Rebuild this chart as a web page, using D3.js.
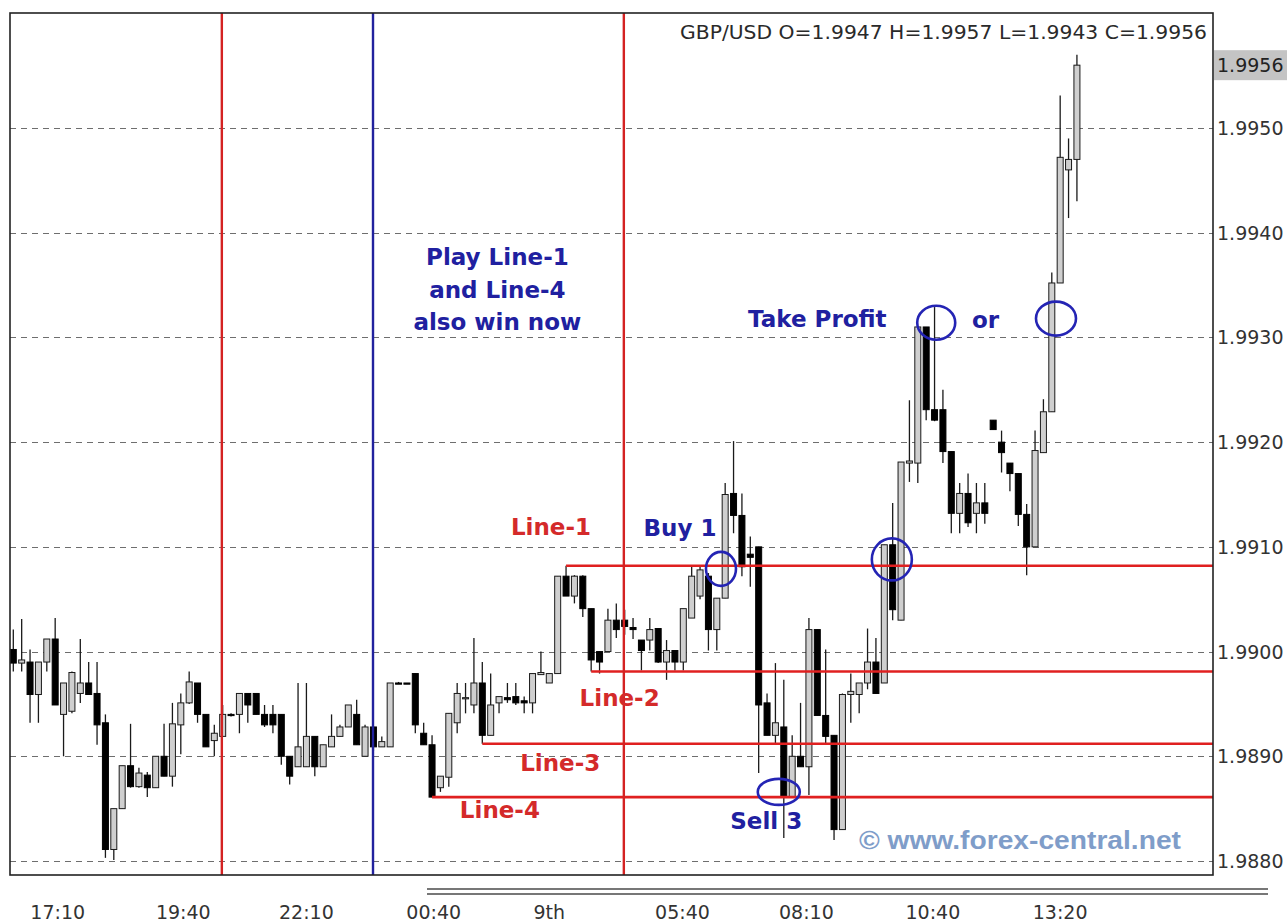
<!DOCTYPE html>
<html><head><meta charset="utf-8">
<script src="https://cdn.jsdelivr.net/npm/d3@7"></script>
<style>html,body{margin:0;padding:0;background:#fff;} svg{display:block;}</style>
</head><body><svg id="c" width="1287" height="923"></svg>
<script>
// ---------- DATA (GBP/USD, 10-minute candles) ----------
const opens = [1.99002,1.98989,1.98990,1.98959,1.98990,1.99012,1.98940,1.98943,1.98960,1.98970,
1.98960,1.98932,1.98811,1.98850,1.98891,1.98871,1.98882,1.98870,1.98900,1.98881,
1.98930,1.98951,1.98970,1.98940,1.98915,1.98919,1.98940,1.98940,1.98960,1.98960,
1.98940,1.98940,1.98940,1.98900,1.98890,1.98890,1.98919,1.98890,1.98909,1.98919,
1.98928,1.98940,1.98900,1.98928,1.98909,1.98909,1.98970,1.98970,1.98979,1.98922,
1.98911,1.98870,1.98880,1.98932,1.98955,1.98949,1.98970,1.98920,1.98951,1.98956,
1.98957,1.98953,1.98951,1.98978,1.98970,1.98979,1.99072,1.99053,1.99072,1.99041,
1.99000,1.99000,1.99030,1.99030,1.99023,1.99011,1.99011,1.99022,1.98990,1.99001,
1.98990,1.99032,1.99053,1.99072,1.99021,1.99051,1.99151,1.99130,1.99093,1.99100,
1.98951,1.98920,1.98928,1.98861,1.98900,1.98890,1.99021,1.98939,1.98920,1.98830,
1.98959,1.98959,1.98970,1.98990,1.98970,1.99102,1.99030,1.99180,1.99180,1.99310,
1.99231,1.99231,1.99191,1.99132,1.99151,1.99132,1.99142,1.99221,1.99200,1.99180,
1.99170,1.99131,1.99100,1.99190,1.99229,1.99352,1.99460,1.99470];
const highs = [1.99021,1.99031,1.99002,1.98990,1.99012,1.99032,1.98970,1.98981,1.99012,1.98990,
1.98990,1.98940,1.98850,1.98891,1.98931,1.98889,1.98885,1.98900,1.98931,1.98951,
1.98960,1.98981,1.98970,1.98940,1.98930,1.98949,1.98941,1.98960,1.98960,1.98960,
1.98949,1.98949,1.98940,1.98900,1.98970,1.98970,1.98919,1.98911,1.98940,1.98930,
1.98949,1.98954,1.98930,1.98929,1.98919,1.98970,1.98971,1.98970,1.98979,1.98932,
1.98920,1.98881,1.98941,1.98970,1.98970,1.99013,1.98990,1.98979,1.98957,1.98970,
1.98970,1.98957,1.98979,1.99000,1.98979,1.99072,1.99082,1.99073,1.99073,1.99041,
1.99000,1.99041,1.99046,1.99040,1.99032,1.99011,1.99032,1.99022,1.99011,1.99001,
1.99041,1.99081,1.99081,1.99075,1.99051,1.99161,1.99201,1.99151,1.99110,1.99100,
1.98960,1.98989,1.98973,1.98920,1.98951,1.99032,1.99021,1.99002,1.98920,1.98960,
1.98979,1.98970,1.99022,1.99013,1.99102,1.99142,1.99181,1.99240,1.99310,1.99310,
1.99329,1.99250,1.99191,1.99161,1.99170,1.99161,1.99161,1.99221,1.99211,1.99180,
1.99170,1.99141,1.99211,1.99241,1.99362,1.99531,1.99490,1.99570];
const lows = [1.98981,1.98981,1.98932,1.98932,1.98981,1.98949,1.98900,1.98941,1.98951,1.98959,
1.98911,1.98803,1.98801,1.98850,1.98870,1.98870,1.98861,1.98870,1.98881,1.98871,
1.98902,1.98950,1.98932,1.98909,1.98900,1.98919,1.98938,1.98922,1.98932,1.98940,
1.98928,1.98922,1.98892,1.98873,1.98890,1.98890,1.98881,1.98890,1.98909,1.98919,
1.98928,1.98911,1.98900,1.98905,1.98909,1.98909,1.98969,1.98969,1.98922,1.98911,
1.98861,1.98866,1.98871,1.98922,1.98941,1.98941,1.98912,1.98920,1.98941,1.98951,
1.98949,1.98941,1.98941,1.98978,1.98970,1.98979,1.99053,1.99046,1.99033,1.98981,
1.98979,1.99000,1.99013,1.99016,1.99012,1.98982,1.99001,1.98989,1.98973,1.98982,
1.98982,1.99032,1.99050,1.99001,1.99001,1.99051,1.99113,1.99072,1.99062,1.98884,
1.98920,1.98912,1.98822,1.98861,1.98890,1.98863,1.98939,1.98912,1.98820,1.98830,
1.98932,1.98941,1.98964,1.98960,1.98970,1.99030,1.99030,1.99162,1.99161,1.99221,
1.99220,1.99180,1.99113,1.99113,1.99119,1.99113,1.99122,1.99212,1.99171,1.99153,
1.99120,1.99073,1.99100,1.99190,1.99229,1.99352,1.99414,1.99430];
const closes = [1.98989,1.98992,1.98959,1.98990,1.99012,1.98949,1.98970,1.98980,1.98970,1.98959,
1.98930,1.98811,1.98850,1.98891,1.98871,1.98884,1.98870,1.98900,1.98881,1.98931,
1.98951,1.98971,1.98940,1.98909,1.98922,1.98940,1.98939,1.98960,1.98949,1.98940,
1.98930,1.98930,1.98900,1.98881,1.98909,1.98919,1.98890,1.98911,1.98919,1.98928,
1.98949,1.98911,1.98928,1.98909,1.98914,1.98970,1.98969,1.98969,1.98930,1.98911,
1.98861,1.98881,1.98941,1.98960,1.98956,1.98970,1.98920,1.98949,1.98957,1.98954,
1.98951,1.98951,1.98979,1.98980,1.98979,1.99072,1.99053,1.99072,1.99041,1.98992,
1.98990,1.99030,1.99021,1.99024,1.99021,1.99001,1.99021,1.98990,1.99001,1.98990,
1.99041,1.99072,1.99078,1.99021,1.99051,1.99150,1.99130,1.99081,1.99090,1.98949,
1.98920,1.98932,1.98861,1.98900,1.98890,1.99021,1.98939,1.98919,1.98830,1.98959,
1.98962,1.98970,1.98990,1.98960,1.99102,1.99040,1.99181,1.99182,1.99310,1.99231,
1.99221,1.99191,1.99132,1.99151,1.99123,1.99142,1.99132,1.99212,1.99190,1.99170,
1.99131,1.99100,1.99192,1.99229,1.99352,1.99472,1.99470,1.99560];

const priceTicks = [1.9880,1.9890,1.9900,1.9910,1.9920,1.9930,1.9940,1.9950];
const priceTickLabels = ["1.9880","1.9890","1.9900","1.9910","1.9920","1.9930","1.9940","1.9950"];
const timeLabels = ["17:10","19:40","22:10","00:40","9th","05:40","08:10","10:40","13:20"];
const timeLabelIdx = [5.3,20.3,35.0,50.2,64.0,79.9,94.7,109.8,125.0];
const lastPrice = 1.9956;
const headerText = "GBP/USD O=1.9947 H=1.9957 L=1.9943 C=1.9956";

const levelNames = ["Line-1","Line-2","Line-3","Line-4"];
const levelPrices = [1.99082,1.98981,1.98912,1.98861];
const levelStartIdx = [66,69,56,50];
const levelLabelIdx = [64.2,72.4,65.3,58.1];
const levelLabelPrice = [1.99119,1.98956,1.98894,1.98849];

const redSessionIdx = [24.9,72.9];
const blueSessionIdx = [42.95];

const noteTexts = ["Play Line-1","and Line-4","also win now","Buy 1","Sell 3","Take Profit","or"];
const noteIdx = [57.8,57.8,57.8,79.6,89.9,96.0,116.1];
const notePrice = [1.99377,1.99345,1.99315,1.99118,1.98838,1.99318,1.99317];

const circleIdx = [84.5,91.4,104.9,110.2,124.5];
const circlePrice = [1.99079,1.98866,1.99088,1.99314,1.99318];
const circleRx = [15,21,20,19,20];
const circleRy = [17,13,21,17,17];

const watermark = "\u00A9 www.forex-central.net";
const watermarkIdx = 120.2, watermarkPrice = 1.98820;

// ---------- LAYOUT ----------
const svg = d3.select("#c");
const PL = 10, PR = 1213, PT = 13, PB = 875;
const x = d3.scaleLinear().domain([0,127]).range([13.3, 13.3 + 127*8.375]);
const y = d3.scaleLinear().domain([1.9880,1.9950]).range([861,128]);

const candles = opens.map((o,i)=>({i,o,h:highs[i],l:lows[i],c:closes[i]}));

const clipId = "plotclip";
svg.append("defs").append("clipPath").attr("id",clipId)
  .append("rect").attr("x",PL).attr("y",PT).attr("width",PR-PL).attr("height",PB-PT);

// grid
svg.append("g").selectAll("line").data(priceTicks).join("line")
  .attr("x1",PL).attr("x2",PR)
  .attr("y1",d=>Math.round(y(d))+0.5).attr("y2",d=>Math.round(y(d))+0.5)
  .attr("stroke","#6e6e6e").attr("stroke-width",1.2).attr("stroke-dasharray","6,5");

// candles
const cg = svg.append("g").attr("clip-path",`url(#${clipId})`);
cg.selectAll("line.wick").data(candles).join("line").attr("class","wick")
  .attr("x1",d=>x(d.i)).attr("x2",d=>x(d.i))
  .attr("y1",d=>y(d.h)).attr("y2",d=>y(d.l))
  .attr("stroke","#1a1a1a").attr("stroke-width",1.3);
cg.selectAll("rect.body").data(candles).join("rect").attr("class","body")
  .attr("x",d=>x(d.i)-3).attr("width",6)
  .attr("y",d=>y(Math.max(d.o,d.c)))
  .attr("height",d=>Math.max(1.2, y(Math.min(d.o,d.c))-y(Math.max(d.o,d.c))))
  .attr("fill",d=>d.c>=d.o?"#cfcfcf":"#000")
  .attr("stroke",d=>d.c>=d.o?"#1a1a1a":"#000")
  .attr("stroke-width",1);

// horizontal level lines
svg.append("g").selectAll("line").data(levelPrices).join("line")
  .attr("x1",(d,k)=>x(levelStartIdx[k])).attr("x2",PR)
  .attr("y1",d=>y(d)).attr("y2",d=>y(d))
  .attr("stroke","#e02020").attr("stroke-width",2.6);

// session lines
svg.append("g").selectAll("line").data(redSessionIdx).join("line")
  .attr("x1",d=>x(d)).attr("x2",d=>x(d)).attr("y1",PT).attr("y2",PB)
  .attr("stroke","#d42222").attr("stroke-width",2.4);
svg.append("g").selectAll("line").data(blueSessionIdx).join("line")
  .attr("x1",d=>x(d)).attr("x2",d=>x(d)).attr("y1",PT).attr("y2",PB)
  .attr("stroke","#22229e").attr("stroke-width",2.4);

// frame
svg.append("rect").attr("x",PL).attr("y",PT).attr("width",PR-PL).attr("height",PB-PT)
  .attr("fill","none").attr("stroke","#222").attr("stroke-width",1.6);

// right axis labels
svg.append("g").selectAll("text").data(priceTicks).join("text")
  .attr("x",1217).attr("y",d=>y(d)).attr("dominant-baseline","central")
  .attr("font-family","DejaVu Sans").attr("font-size",19).attr("fill","#333")
  .text((d,k)=>priceTickLabels[k]);

// last price tag
svg.append("rect").attr("x",1214).attr("y",y(lastPrice)-15).attr("width",73).attr("height",30)
  .attr("fill","#c4c4c4");
svg.append("text").attr("x",1217).attr("y",y(lastPrice)).attr("dominant-baseline","central")
  .attr("font-family","DejaVu Sans").attr("font-size",19).attr("fill","#222").text(lastPrice.toFixed(4));

// header
svg.append("text").attr("x",1207).attr("y",39).attr("text-anchor","end")
  .attr("font-family","DejaVu Sans").attr("font-size",19).attr("fill","#2a2a2a")
  .attr("textLength",527).attr("lengthAdjust","spacingAndGlyphs").text(headerText);

// time axis labels
svg.append("g").selectAll("text").data(timeLabels).join("text")
  .attr("x",(d,k)=>x(timeLabelIdx[k])).attr("y",919).attr("text-anchor","middle")
  .attr("font-family","DejaVu Sans").attr("font-size",19).attr("fill","#333").text(d=>d);

// scrollbar double line
svg.append("g").selectAll("line").data([889,894]).join("line")
  .attr("x1",427).attr("x2",1268).attr("y1",d=>d).attr("y2",d=>d)
  .attr("stroke","#777").attr("stroke-width",2.2);

// level labels
svg.append("g").selectAll("text").data(levelNames).join("text")
  .attr("x",(d,k)=>x(levelLabelIdx[k])).attr("y",(d,k)=>y(levelLabelPrice[k]))
  .attr("text-anchor","middle").attr("dominant-baseline","central")
  .attr("font-family","DejaVu Sans").attr("font-weight","bold").attr("font-size",23)
  .attr("fill","#d42a2a").text(d=>d);

// notes
svg.append("g").selectAll("text").data(noteTexts).join("text")
  .attr("x",(d,k)=>x(noteIdx[k])).attr("y",(d,k)=>y(notePrice[k]))
  .attr("text-anchor","middle").attr("dominant-baseline","central")
  .attr("font-family","DejaVu Sans").attr("font-weight","bold").attr("font-size",23)
  .attr("fill","#2020a0").text(d=>d);

// circles
svg.append("g").selectAll("ellipse").data(circleIdx).join("ellipse")
  .attr("cx",d=>x(d)).attr("cy",(d,k)=>y(circlePrice[k]))
  .attr("rx",(d,k)=>circleRx[k]).attr("ry",(d,k)=>circleRy[k])
  .attr("fill","none").attr("stroke","#2424b4").attr("stroke-width",2.6);

// watermark
svg.append("text").attr("x",x(watermarkIdx)).attr("y",y(watermarkPrice))
  .attr("text-anchor","middle").attr("dominant-baseline","central")
  .attr("font-family","Liberation Sans").attr("font-weight","bold").attr("font-size",25)
  .attr("fill","#7f9dc9").attr("textLength",322).attr("lengthAdjust","spacingAndGlyphs")
  .text(watermark);
</script>
</body></html>
